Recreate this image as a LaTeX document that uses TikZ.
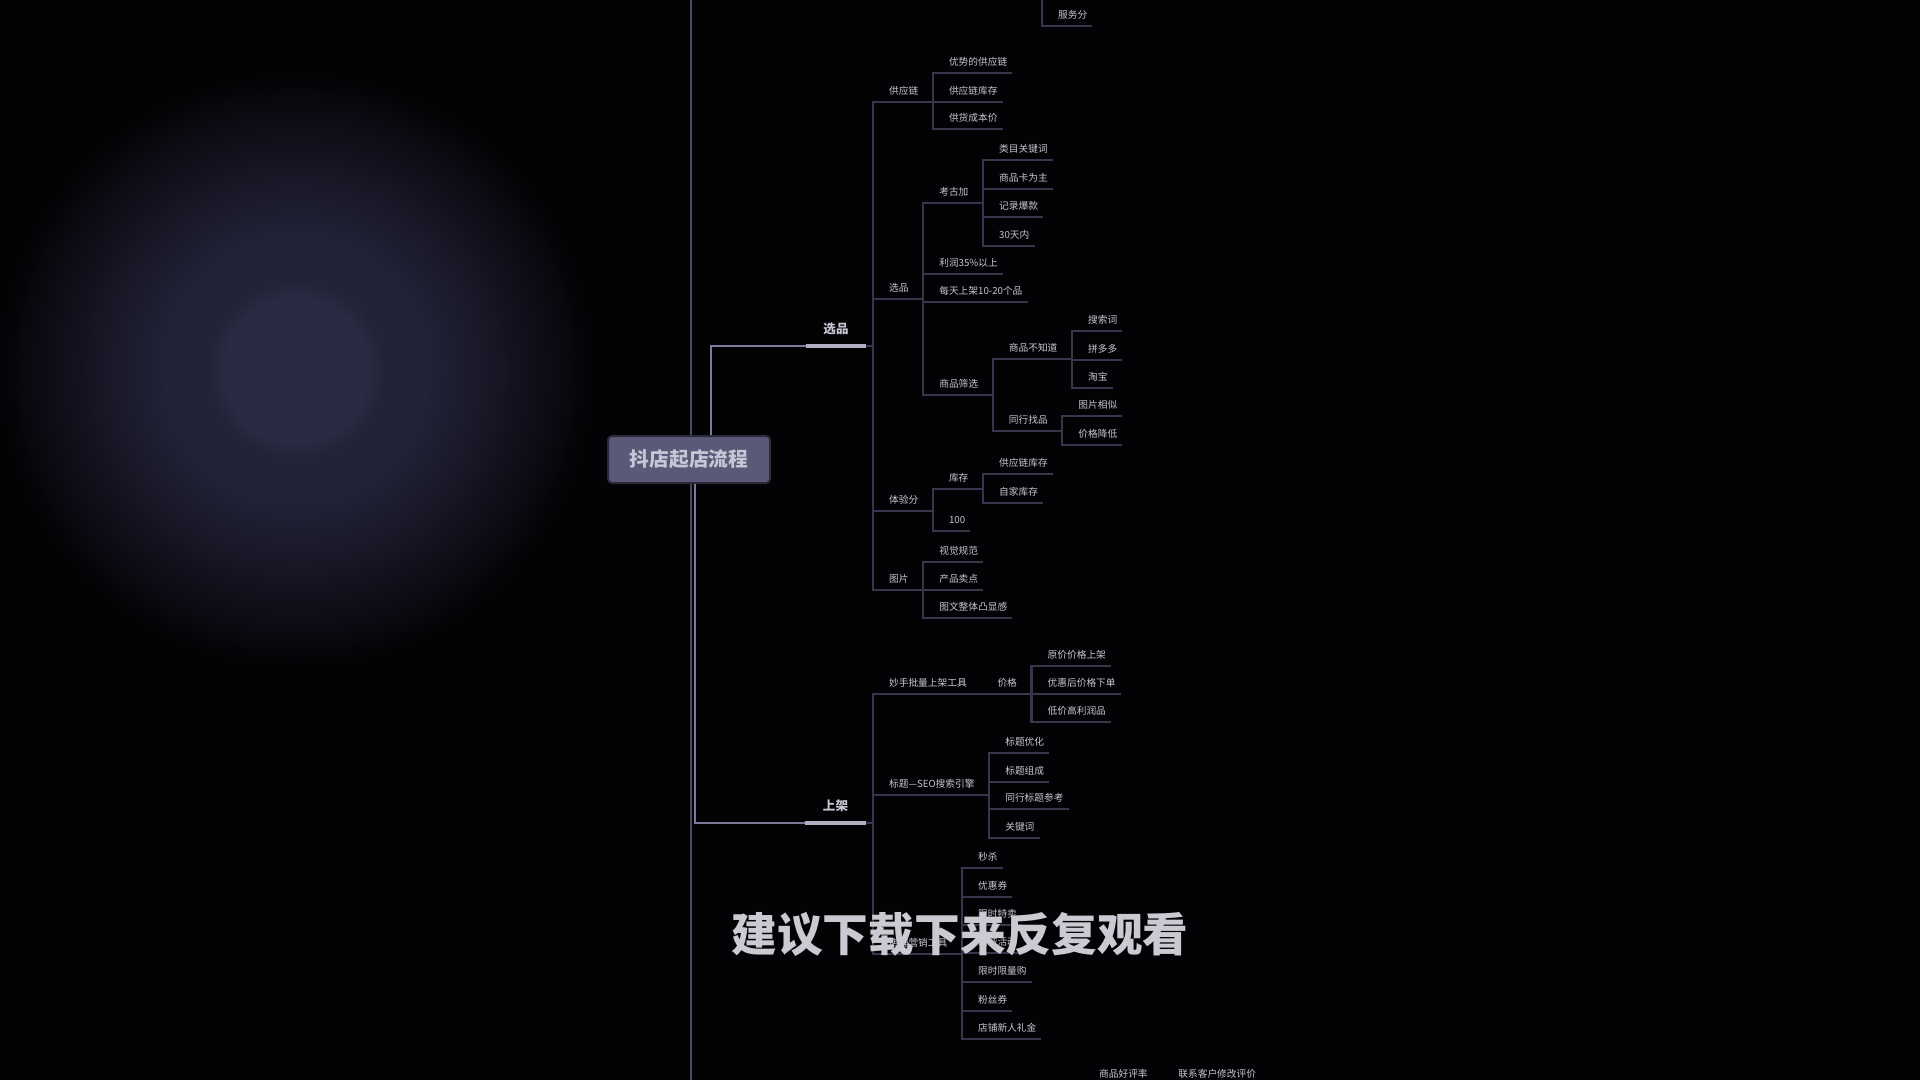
\documentclass[tikz,border=0pt]{standalone}
\usepackage{fontspec}
\setmainfont{Noto Sans CJK SC}
\usetikzlibrary{calc, positioning}

\definecolor{bgc}{HTML}{030305}
\definecolor{glowa}{HTML}{2A2A43}
\definecolor{glowb}{HTML}{222238}
\definecolor{glowc}{HTML}{1A1A2B}
\definecolor{glowd}{HTML}{0E0E18}
\definecolor{spinec}{HTML}{4A4A62}
\definecolor{stemc}{HTML}{7C7C9A}
\definecolor{linkc}{HTML}{36364C}
\definecolor{hlc}{HTML}{B0B0C2}
\definecolor{txtc}{HTML}{C6C6D4}
\definecolor{rootc}{HTML}{5A5A78}
\definecolor{rootline}{HTML}{2B2B3A}
\definecolor{tipc}{HTML}{CACAD2}

\pgfdeclareradialshading{glow}{\pgfpoint{0bp}{0bp}}{%
  color(0bp)=(glowa); color(6bp)=(glowa); color(7.5bp)=(glowb);
  color(11bp)=(glowb); color(15bp)=(glowc); color(20.5bp)=(glowd);
  color(25bp)=(bgc); color(50bp)=(bgc)}

\newcommand\leaffont{\fontsize{13.8}{16}\selectfont}
\newcommand\topfont{\bfseries\fontsize{17.8}{20}\selectfont}
\newcommand\rootfont{\bfseries\fontsize{28}{32}\selectfont}
\newcommand\tipfont{\bfseries\fontsize{65}{70}\selectfont}

\begin{document}
\begin{tikzpicture}[x=0.05cm, y=-0.05cm,
    tag/.style={anchor=south west, inner ysep=0.37cm, text height=0.39cm,
                text depth=0pt, text=txtc, font=\leaffont},
    leaf/.style={tag, xshift=0.55cm, inner xsep=0.25cm},
    hub/.style={tag, xshift=0.075cm, inner xsep=0.725cm},
    top/.style={anchor=south, inner xsep=0.875cm, inner ysep=0.62cm,
                text height=0.5cm, text depth=0pt, text=txtc, font=\topfont},
    root/.style={draw=rootline, line width=0.1cm, fill=rootc, rounded corners=0.2cm,
                 minimum width=8.1cm, minimum height=2.35cm, inner sep=0pt,
                 text=txtc, font=\rootfont},
    tip/.style={inner sep=0pt, text=tipc, font=\tipfont},
    spine/.style={draw=spinec, line width=0.1cm},
    stem/.style={draw=stemc, line width=0.08cm},
    link/.style={draw=linkc, line width=0.11cm},
    hl/.style={draw=hlc, line width=0.16cm}
  ]

  \useasboundingbox (0,0) rectangle (1920,1080);
  \fill[bgc] (0,0) rectangle (1920,1080);
  \shade[shading=glow] (296,370) circle (14.8cm);

  \coordinate (spinetop) at (691,0);
  \coordinate (spinebot) at (691,1080);
  \coordinate (xpfork) at (873,346);
  \coordinate (sjfork) at (873,823);
  \coordinate (fwtop) at (1042,0);

  \draw[spine] (spinetop) -- (spinebot);

  \node[root] (root) at (689,459.5) {抖店起店流程};
  \node[top] (xp) at (836,346) {选品};
  \node[top] (sj) at (835.5,823) {上架};

  \draw[stem] ([xshift=1.1cm]root.north) |- (xp.south west);
  \draw[stem] ([xshift=0.3cm]root.south) |- (sj.south west);
  \draw[link] (xp.south east) -- (xpfork);
  \draw[link] (sj.south east) -- (sjfork);
  \draw[hl] (xp.south west) -- (xp.south east);
  \draw[hl] (sj.south west) -- (sj.south east);

  % top edge
  \node[leaf] (fwf) at (fwtop |- 0,26) {服务分};
  \draw[link] (fwtop) |- (fwf.south east);

  % 选品
  \node[hub] (gyl) at (xpfork |- 0,102) {供应链};
  \node[leaf] (gyl1) at (gyl.south east |- 0,73) {优势的供应链};
  \node[leaf] (gyl2) at (gyl.south east |- 0,102) {供应链库存};
  \node[leaf] (gyl3) at (gyl.south east |- 0,129) {供货成本价};

  \node[hub] (xpsub) at (xpfork |- 0,299) {选品};
  \node[hub] (kgj) at (xpsub.south east |- 0,203) {考古加};
  \node[leaf] (kgj1) at (kgj.south east |- 0,160) {类目关键词};
  \node[leaf] (kgj2) at (kgj.south east |- 0,189) {商品卡为主};
  \node[leaf] (kgj3) at (kgj.south east |- 0,217) {记录爆款};
  \node[leaf] (kgj4) at (kgj.south east |- 0,246) {30天内};
  \node[leaf] (lr) at (xpsub.south east |- 0,274) {利润35\%以上};
  \node[leaf] (mt) at (xpsub.south east |- 0,302) {每天上架10-20个品};
  \node[hub] (sxp) at (xpsub.south east |- 0,395) {商品筛选};
  \node[hub] (bzd) at (sxp.south east |- 0,359) {商品不知道};
  \node[leaf] (ssc) at (bzd.south east |- 0,331) {搜索词};
  \node[leaf] (pdd) at (bzd.south east |- 0,360) {拼多多};
  \node[leaf] (tb) at (bzd.south east |- 0,388) {淘宝};
  \node[hub] (thzp) at (sxp.south east |- 0,431) {同行找品};
  \node[leaf] (tpxs) at (thzp.south east |- 0,416) {图片相似};
  \node[leaf] (jgjd) at (thzp.south east |- 0,445) {价格降低};

  \node[hub] (tyf) at (xpfork |- 0,511) {体验分};
  \node[hub] (kc) at (tyf.south east |- 0,489) {库存};
  \node[leaf] (kc1) at (kc.south east |- 0,474) {供应链库存};
  \node[leaf] (kc2) at (kc.south east |- 0,503) {自家库存};
  \node[leaf] (yb) at (tyf.south east |- 0,531) {100};

  \node[hub] (tp) at (xpfork |- 0,590) {图片};
  \node[leaf] (tp1) at (tp.south east |- 0,562) {视觉规范};
  \node[leaf] (tp2) at (tp.south east |- 0,590) {产品卖点};
  \node[leaf] (tp3) at (tp.south east |- 0,618) {图文整体凸显感};

  \foreach \c in {gyl, xpsub, tyf, tp} \draw[link] (xpfork) |- (\c.south east);
  \foreach \c in {gyl1, gyl2, gyl3} \draw[link] (gyl.south east) |- (\c.south east);
  \foreach \c in {kgj, lr, mt, sxp} \draw[link] (xpsub.south east) |- (\c.south east);
  \foreach \c in {kgj1, kgj2, kgj3, kgj4} \draw[link] (kgj.south east) |- (\c.south east);
  \foreach \c in {bzd, thzp} \draw[link] (sxp.south east) |- (\c.south east);
  \foreach \c in {ssc, pdd, tb} \draw[link] (bzd.south east) |- (\c.south east);
  \foreach \c in {tpxs, jgjd} \draw[link] (thzp.south east) |- (\c.south east);
  \foreach \c in {kc, yb} \draw[link] (tyf.south east) |- (\c.south east);
  \foreach \c in {kc1, kc2} \draw[link] (kc.south east) |- (\c.south east);
  \foreach \c in {tp1, tp2, tp3} \draw[link] (tp.south east) |- (\c.south east);

  % 上架
  \node[hub] (msgj) at (sjfork |- 0,694) {妙手批量上架工具};
  \node[hub] (jg) at (msgj.south east |- 0,694) {价格};
  \node[leaf] (jg1) at (jg.south east |- 0,666) {原价价格上架};
  \node[leaf] (jg2) at (jg.south east |- 0,694) {优惠后价格下单};
  \node[leaf] (jg3) at (jg.south east |- 0,722) {低价高利润品};

  \node[hub] (bt) at (sjfork |- 0,795) {标题—SEO搜索引擎};
  \node[leaf] (bt1) at (bt.south east |- 0,753) {标题优化};
  \node[leaf] (bt2) at (bt.south east |- 0,782) {标题组成};
  \node[leaf] (bt3) at (bt.south east |- 0,809) {同行标题参考};
  \node[leaf] (bt4) at (bt.south east |- 0,838) {关键词};

  \node[hub] (yx) at (sjfork |- 0,954) {店铺营销工具};
  \node[leaf] (yx1) at (yx.south east |- 0,868) {秒杀};
  \node[leaf] (yx2) at (yx.south east |- 0,897) {优惠券};
  \node[leaf] (yx3) at (yx.south east |- 0,925) {限时特卖};
  \node[leaf] (yx4) at (yx.south east |- 0,953) {满减活动};
  \node[leaf] (yx5) at (yx.south east |- 0,982) {限时限量购};
  \node[leaf] (yx6) at (yx.south east |- 0,1011) {粉丝券};
  \node[leaf] (yx7) at (yx.south east |- 0,1039) {店铺新人礼金};

  \foreach \c in {msgj, bt, yx} \draw[link] (sjfork) |- (\c.south east);
  \draw[link] (msgj.south east) -- (jg.south east);
  \foreach \c in {jg1, jg2, jg3} \draw[link] (jg.south east) |- (\c.south east);
  \foreach \c in {bt1, bt2, bt3, bt4} \draw[link] (bt.south east) |- (\c.south east);
  \foreach \c in {yx1, yx2, yx3, yx4, yx5, yx6, yx7} \draw[link] (yx.south east) |- (\c.south east);

  % bottom edge
  \node[hub] (hpl) at (1083,1085) {商品好评率};
  \node[leaf] (lxkh) at (hpl.south east |- 0,1085) {联系客户修改评价};
  \draw[link] (hpl.south east) -- (lxkh.south east);

  \node[tip] (tip) at (960,934) {建议下载下来反复观看};

\end{tikzpicture}
\end{document}
